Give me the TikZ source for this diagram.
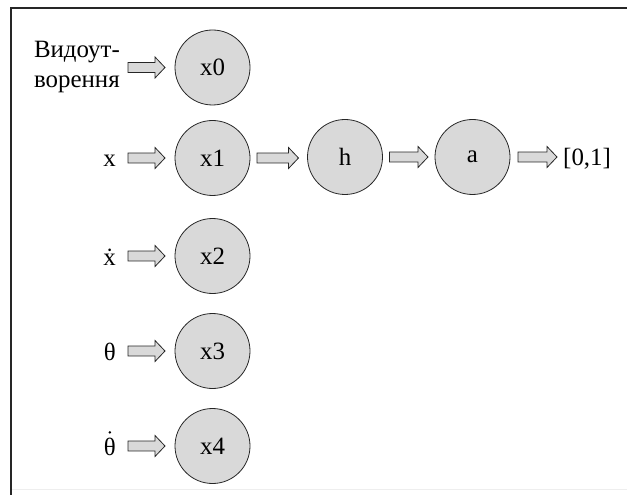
\documentclass[tikz,border=0pt]{standalone}
\usepackage{fontspec}
\setmainfont{Liberation Serif}
\usetikzlibrary{calc}
\definecolor{nodegray}{HTML}{D9D9D9}
\definecolor{framegray}{HTML}{EEEEEE}
\begin{document}
\begin{tikzpicture}[x=1bp,y=-1bp,
  neuron/.style={circle,draw=black!85,fill=nodegray,line width=0.8bp,
    minimum size=75bp,inner sep=0pt,outer sep=0pt,
    font=\fontsize{25}{30}\selectfont},
  lab/.style={inner sep=0pt,font=\fontsize{25}{30}\selectfont,align=left},
  blockarr/.style={draw=black!85,fill=nodegray,line width=0.8bp,
    to path={let \p1=(\tikztostart),\p2=(\tikztotarget) in
      (\x1,\y1+5pt) -- (\x2-10pt,\y1+5pt) -- (\x2-10pt,\y1+10.5pt) -- (\x2,\y1)
      -- (\x2-10pt,\y1-10.5pt) -- (\x2-10pt,\y1-5pt) -- (\x1,\y1-5pt) -- cycle}}]
\useasboundingbox (0,0) rectangle (627,495);
% frame
\draw[framegray,line width=1bp] (11,489) -- (627,489);
\draw[black!85,line width=2bp] (11,495) -- (11,8) -- (627,8);
% neurons
\node[neuron] (x0) at (212.5,67.5) {x0};
\node[neuron] (x1) at (212.5,158) {x1};
\node[neuron] (h) at (345,157) {h};
\node[neuron] (a) at (472.5,157) {a};
\node[neuron] (x2) at (212.5,256) {x2};
\node[neuron] (x3) at (212.5,351) {x3};
\node[neuron] (x4) at (212.5,446) {x4};
% labels
\node[lab,anchor=east] (l0) at (120,67) {Видоут-\\ворення};
\node[lab,anchor=base east] (l1) at (116,167) {x};
\node[lab,anchor=base east] (l2) at (116,265) {\.{x}};
\node[lab,anchor=base east] (l3) at (116,360) {θ};
\node[lab,anchor=base east] (l4) at (116,455) {θ};
\fill[black] ($(l4.north)+(0,-5)$) circle (1.4bp);
\node[lab,anchor=base west] (out) at (563,166) {[0,1]};
% arrows
\draw[blockarr] (128,0 |- x0) to ($(x0.west)+(-10,0)$);
\draw[blockarr] (128,0 |- x1) to ($(x1.west)+(-10,0)$);
\draw[blockarr] (128,0 |- x2) to ($(x2.west)+(-10,0)$);
\draw[blockarr] (128,0 |- x3) to ($(x3.west)+(-10,0)$);
\draw[blockarr] (128,0 |- x4) to ($(x4.west)+(-10,0)$);
\draw[blockarr] ($(x1.east)+(7,0)$) to ($(h.west)+(-9,0)$);
\draw[blockarr] ($(h.east)+(7,0)$) to ($(a.west)+(-7,0)$);
\draw[blockarr] ($(a.east)+(8,0)$) to ($(out.west |- a)+(-6,0)$);
\end{tikzpicture}
\end{document}
